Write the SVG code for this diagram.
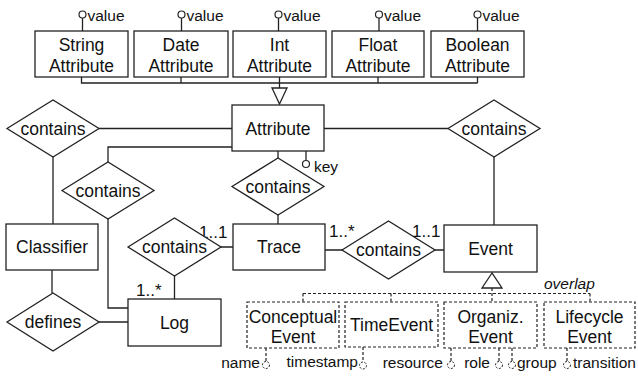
<svg xmlns="http://www.w3.org/2000/svg" width="638" height="379" viewBox="0 0 638 379">
<style>
.b{fill:#fff;stroke:#222;stroke-width:1.3}
.d{fill:#fff;stroke:#222;stroke-width:1.2;stroke-dasharray:3,2}
.l{fill:none;stroke:#222;stroke-width:1.3}
.dl{fill:none;stroke:#222;stroke-width:1.2;stroke-dasharray:3,2}
.dc{fill:#fff;stroke:#222;stroke-width:1;stroke-dasharray:2,1.5}
.c{fill:#fff;stroke:#222;stroke-width:1.2}
text{font-family:"Liberation Sans",Arial,Helvetica,sans-serif;fill:#111}
.t{font-size:17.5px;text-anchor:middle}
.s{font-size:15.5px}
.e{text-anchor:end}
.m{font-size:17px}
</style>
<rect width="638" height="379" fill="#fff"/>
<g id="connectors">
<path class="l" d="M81.5,77V83H477.5M181,77V83M378,77V83M477.5,77V83M279.5,77V88"/>
<polygon class="b" points="272,88 287,88 279.5,104"/>
<path class="l" d="M99,128.5H232M53,157V224M232,147H108V162M108,219V308H128M52,270V293M99,322H128M174.5,276V299M221,247H233M278,151V158M278,215V224M324,128.5H448M494,157V225M325,250H342M435,250H444"/>
<polygon class="b" points="492,273 482,288 502,288"/>
<path class="dl" d="M492,288V302M303,293.5H590M303,293.5V302M391,293.5V302M590,293.5V302"/>
<text class="s" x="544" y="289" font-style="italic">overlap</text>
<text class="m" x="199" y="238">1..1</text>
<text class="m" x="136" y="296">1..*</text>
<text class="m" x="329" y="237">1..*</text>
<text class="m" x="412" y="237">1..1</text>
</g>
<g id="string-attribute">
<path class="l" d="M82.5,18V31"/><circle class="c" cx="82.5" cy="14.5" r="3.5"/>
<text class="s" x="87.5" y="21">value</text>
<rect class="b" x="35" y="31" width="93" height="46"/>
<text class="t" x="81.5" y="50.5">String</text><text class="t" x="81.5" y="71.5">Attribute</text>
</g>
<g id="date-attribute">
<path class="l" d="M181.5,18V31"/><circle class="c" cx="181.5" cy="14.5" r="3.5"/>
<text class="s" x="186.5" y="21">value</text>
<rect class="b" x="134" y="31" width="94" height="46"/>
<text class="t" x="181" y="50.5">Date</text><text class="t" x="181" y="71.5">Attribute</text>
</g>
<g id="int-attribute">
<path class="l" d="M278.5,18V31"/><circle class="c" cx="278.5" cy="14.5" r="3.5"/>
<text class="s" x="283.5" y="21">value</text>
<rect class="b" x="233" y="31" width="93" height="46"/>
<text class="t" x="279.5" y="50.5">Int</text><text class="t" x="279.5" y="71.5">Attribute</text>
</g>
<g id="float-attribute">
<path class="l" d="M379,18V31"/><circle class="c" cx="379" cy="14.5" r="3.5"/>
<text class="s" x="384" y="21">value</text>
<rect class="b" x="332" y="31" width="92" height="46"/>
<text class="t" x="378" y="50.5">Float</text><text class="t" x="378" y="71.5">Attribute</text>
</g>
<g id="boolean-attribute">
<path class="l" d="M477.5,18V31"/><circle class="c" cx="477.5" cy="14.5" r="3.5"/>
<text class="s" x="482.5" y="21">value</text>
<rect class="b" x="431" y="31" width="93" height="46"/>
<text class="t" x="477.5" y="50.5">Boolean</text><text class="t" x="477.5" y="71.5">Attribute</text>
</g>
<g id="attribute">
<path class="l" d="M306,151V160.5"/><circle class="c" cx="306" cy="164" r="3.5"/>
<text class="s" x="314" y="172">key</text>
<rect class="b" x="232" y="105" width="92" height="46"/>
<text class="t" x="278" y="134.5">Attribute</text>
</g>
<g id="contains-attr-classifier">
<polygon class="b" points="7,128.5 53,100 99,128.5 53,157"/>
<text class="t" x="53" y="134.5">contains</text>
</g>
<g id="contains-attr-log">
<polygon class="b" points="62,190.5 108,162 154,190.5 108,219"/>
<text class="t" x="108" y="196.5">contains</text>
</g>
<g id="contains-attr-trace">
<polygon class="b" points="232,186.5 278,158 324,186.5 278,215"/>
<text class="t" x="278" y="192.5">contains</text>
</g>
<g id="contains-attr-event">
<polygon class="b" points="448,128.5 494,100 540,128.5 494,157"/>
<text class="t" x="494" y="134.5">contains</text>
</g>
<g id="classifier">
<rect class="b" x="6" y="224" width="92" height="46"/>
<text class="t" x="52" y="253">Classifier</text>
</g>
<g id="defines">
<polygon class="b" points="7,322 53,293 99,322 53,351"/>
<text class="t" x="53" y="328">defines</text>
</g>
<g id="log">
<rect class="b" x="128" y="299" width="93" height="47"/>
<text class="t" x="174.5" y="328.5">Log</text>
</g>
<g id="contains-log-trace">
<polygon class="b" points="128,247 174.5,218 221,247 174.5,276"/>
<text class="t" x="174.5" y="253">contains</text>
</g>
<g id="trace">
<rect class="b" x="233" y="224" width="92" height="46"/>
<text class="t" x="279" y="253">Trace</text>
</g>
<g id="contains-trace-event">
<polygon class="b" points="342,250 388.5,221 435,250 388.5,279"/>
<text class="t" x="388.5" y="256">contains</text>
</g>
<g id="event">
<rect class="b" x="444" y="225" width="93" height="47"/>
<text class="t" x="490.5" y="254.5">Event</text>
</g>
<g id="conceptual-event">
<path class="dl" d="M266,348V361.5"/><circle class="dc" cx="266" cy="365" r="3.5"/>
<text class="s e" x="260" y="368">name</text>
<rect class="d" x="247" y="302" width="92" height="46"/>
<text class="t" x="293" y="322.5">Conceptual</text><text class="t" x="293" y="342.5">Event</text>
</g>
<g id="time-event">
<path class="dl" d="M363,347V362"/><circle class="dc" cx="363" cy="365.5" r="3.5"/>
<text class="s e" x="358" y="367">timestamp</text>
<rect class="d" x="345" y="302" width="93" height="45"/>
<text class="t" x="391.5" y="331">TimeEvent</text>
</g>
<g id="organiz-event">
<path class="dl" d="M451,348V361.5M499,348V361.5M512,348V361.5"/>
<circle class="dc" cx="451" cy="365" r="3.5"/><circle class="dc" cx="499" cy="365" r="3.5"/><circle class="dc" cx="512" cy="365" r="3.5"/>
<text class="s e" x="443" y="368">resource</text>
<text class="s e" x="490" y="368">role</text>
<text class="s" x="517" y="368">group</text>
<rect class="d" x="444" y="302" width="93" height="46"/>
<text class="t" x="490.5" y="322.5">Organiz.</text><text class="t" x="490.5" y="342.5">Event</text>
</g>
<g id="lifecycle-event">
<path class="dl" d="M567,348V361.5"/><circle class="dc" cx="567" cy="365" r="3.5"/>
<text class="s" x="573" y="368">transition</text>
<rect class="d" x="544" y="302" width="91" height="46"/>
<text class="t" x="589.5" y="322.5">Lifecycle</text><text class="t" x="589.5" y="342.5">Event</text>
</g>
</svg>
